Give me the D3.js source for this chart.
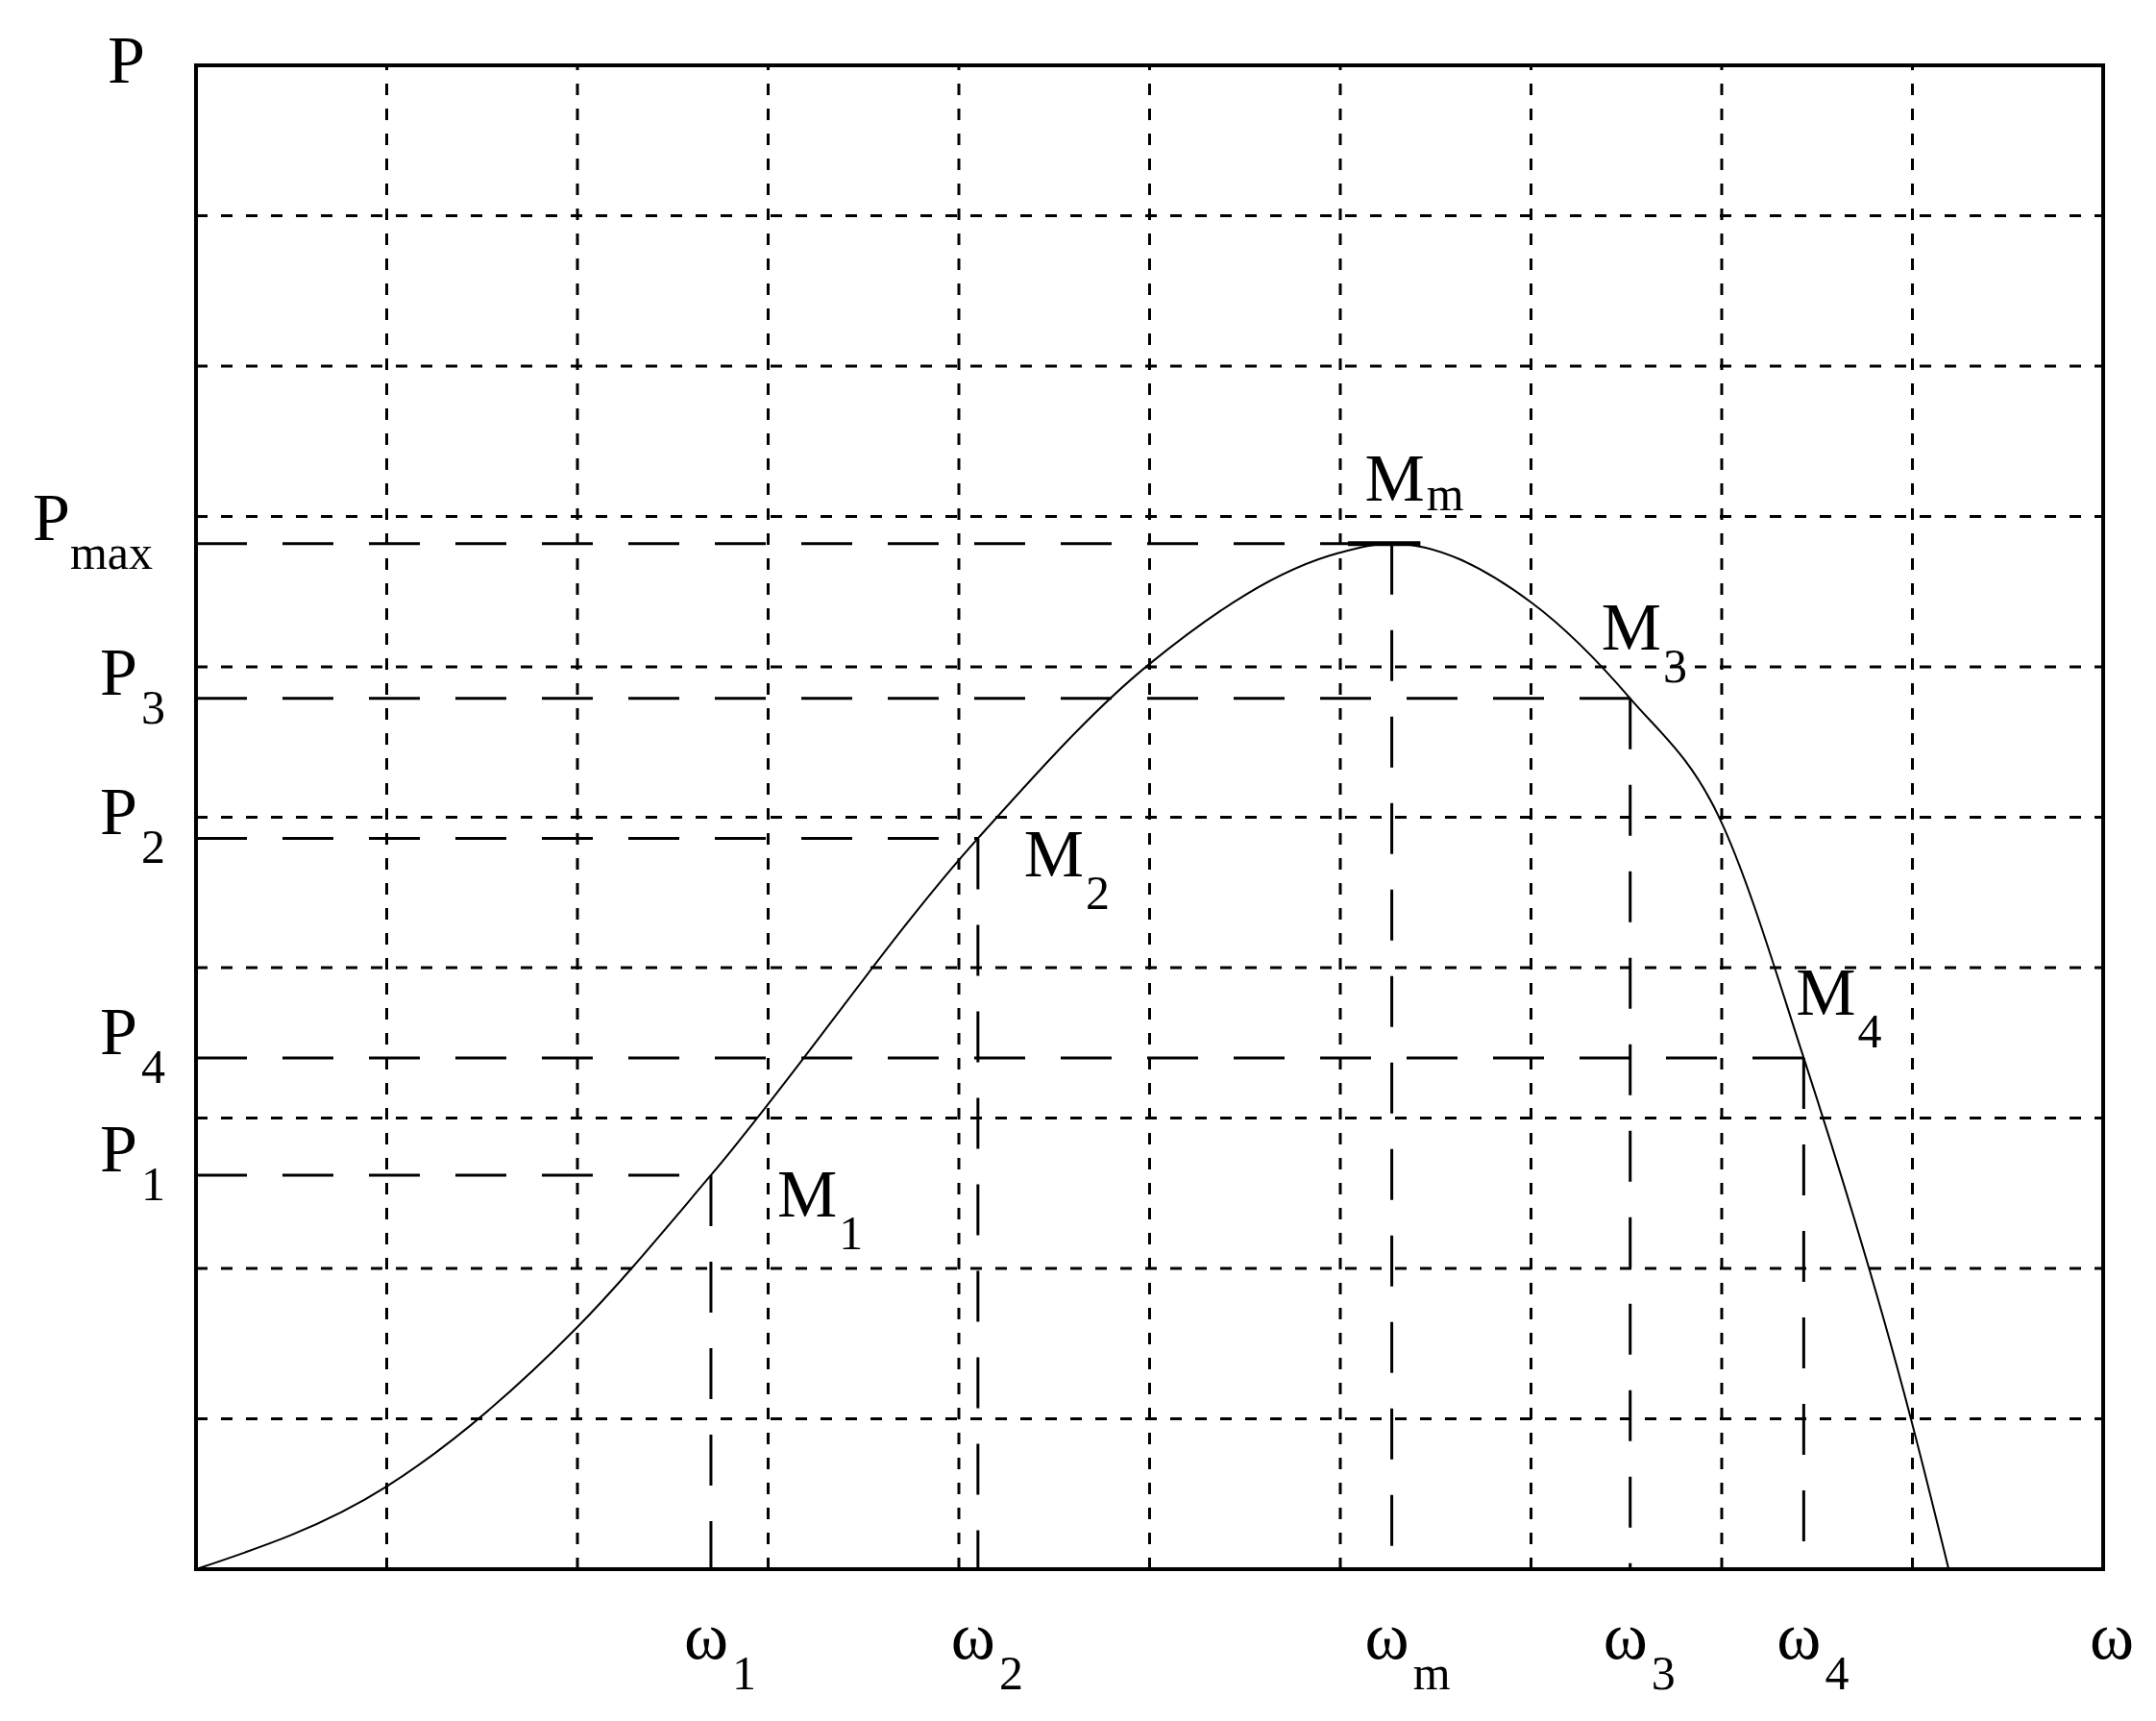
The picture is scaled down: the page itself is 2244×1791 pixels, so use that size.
<!DOCTYPE html>
<html>
<head>
<meta charset="utf-8">
<script src="https://cdn.jsdelivr.net/npm/d3@7"></script>
<style>
  body { margin: 0; background: #fff; }
  text { font-family: "Liberation Serif", serif; fill: #000; }
</style>
</head>
<body>
<svg id="chart" width="2244" height="1791"></svg>
<script>
// Curve P(ω), grid units (10 x 10 cells)
const curveW = [0, 1.00, 2.00, 2.70, 4.10, 5.00, 6.00, 6.27, 7.00, 7.52, 7.99, 8.43, 8.99, 9.19];
const curveP = [0, 0.55, 1.61, 2.62, 4.86, 6.02, 6.76, 6.82, 6.43, 5.79, 4.99, 3.40, 1.01, 0];

// Marked points M1..M4, Mm
const pointNames = ['1', '2', 'm', '3', '4'];
const pointW = [2.70, 4.10, 6.27, 7.52, 8.43];
const pointP = [2.62, 4.86, 6.82, 5.79, 3.40];
const pLabelSubs = ['1', '2', 'max', '3', '4'];

const svg = d3.select('#chart');
const x = d3.scaleLinear().domain([0, 10]).range([204, 2189]);
const y = d3.scaleLinear().domain([0, 10]).range([1633, 68]);

// Dotted grid
svg.append('g')
  .selectAll('line')
  .data(d3.range(1, 10))
  .join('line')
    .attr('x1', d => x(d)).attr('x2', d => x(d))
    .attr('y1', y(0)).attr('y2', y(10))
    .attr('stroke', '#000').attr('stroke-width', 3)
    .attr('stroke-dasharray', '12 14');
svg.append('g')
  .selectAll('line')
  .data(d3.range(1, 10))
  .join('line')
    .attr('x1', x(0)).attr('x2', x(10))
    .attr('y1', d => y(d)).attr('y2', d => y(d))
    .attr('stroke', '#000').attr('stroke-width', 3)
    .attr('stroke-dasharray', '12 14');

// Frame
svg.append('rect')
  .attr('x', x(0)).attr('y', y(10))
  .attr('width', x(10) - x(0)).attr('height', y(0) - y(10))
  .attr('fill', 'none').attr('stroke', '#000').attr('stroke-width', 4);

// Long-dash projection lines
const pts = pointW.map((w, i) => ({ w, p: pointP[i], name: pointNames[i], sub: pLabelSubs[i] }));
svg.append('g')
  .selectAll('line')
  .data(pts)
  .join('line')
    .attr('x1', x(0)).attr('x2', d => x(d.w))
    .attr('y1', d => y(d.p)).attr('y2', d => y(d.p))
    .attr('stroke', '#000').attr('stroke-width', 3)
    .attr('stroke-dasharray', '53 37');
svg.append('g')
  .selectAll('line')
  .data(pts)
  .join('line')
    .attr('x1', d => x(d.w)).attr('x2', d => x(d.w))
    .attr('y1', d => y(d.p)).attr('y2', y(0))
    .attr('stroke', '#000').attr('stroke-width', 3)
    .attr('stroke-dasharray', '53 37');

// Curve
const line = d3.line()
  .x(d => x(d[0])).y(d => y(d[1]))
  .curve(d3.curveMonotoneX);
svg.append('path')
  .datum(curveW.map((w, i) => [w, curveP[i]]))
  .attr('d', line)
  .attr('fill', 'none').attr('stroke', '#000').attr('stroke-width', 2);
svg.append('line')
  .attr('x1', x(6.04)).attr('x2', x(6.42))
  .attr('y1', y(6.82)).attr('y2', y(6.82))
  .attr('stroke', '#000').attr('stroke-width', 5);

// Axis labels
svg.append('text').attr('x', 112).attr('y', 86).attr('font-size', 70).text('P');
svg.append('text').attr('x', 2175).attr('y', 1726).attr('font-size', 70).text('ω');

// P labels on the left
const pl = svg.append('g').selectAll('text').data(pts).join('text')
  .attr('font-size', 70)
  .attr('y', d => y(d.p) - 4);
pl.each(function(d) {
  const t = d3.select(this);
  const long = d.sub === 'max';
  t.attr('x', long ? 34 : 104);
  t.append('tspan').text('P');
  t.append('tspan').attr('font-size', 50).attr('dy', 30).attr('dx', long ? 0 : 4).text(d.sub);
});

// ω labels under axis
const wl = svg.append('g').selectAll('text').data(pts).join('text')
  .attr('font-size', 70)
  .attr('x', d => x(d.w) - 28)
  .attr('y', 1726);
wl.append('tspan').text('ω');
wl.append('tspan').attr('font-size', 50).attr('dy', 32).attr('dx', 4).text(d => d.name);

// M labels
const mOffsets = { '1': [69, 43], '2': [48, 40], 'm': [-28, -45], '3': [-30, -51], '4': [-8, -45] };
const ml = svg.append('g').selectAll('text').data(pts).join('text')
  .attr('font-size', 70)
  .attr('x', d => x(d.w) + mOffsets[d.name][0])
  .attr('y', d => y(d.p) + mOffsets[d.name][1]);
ml.append('tspan').text('M');
ml.append('tspan').attr('font-size', 50)
  .attr('dy', d => d.name === 'm' ? 10 : 34).attr('dx', 2).text(d => d.name);
</script>
</body>
</html>
